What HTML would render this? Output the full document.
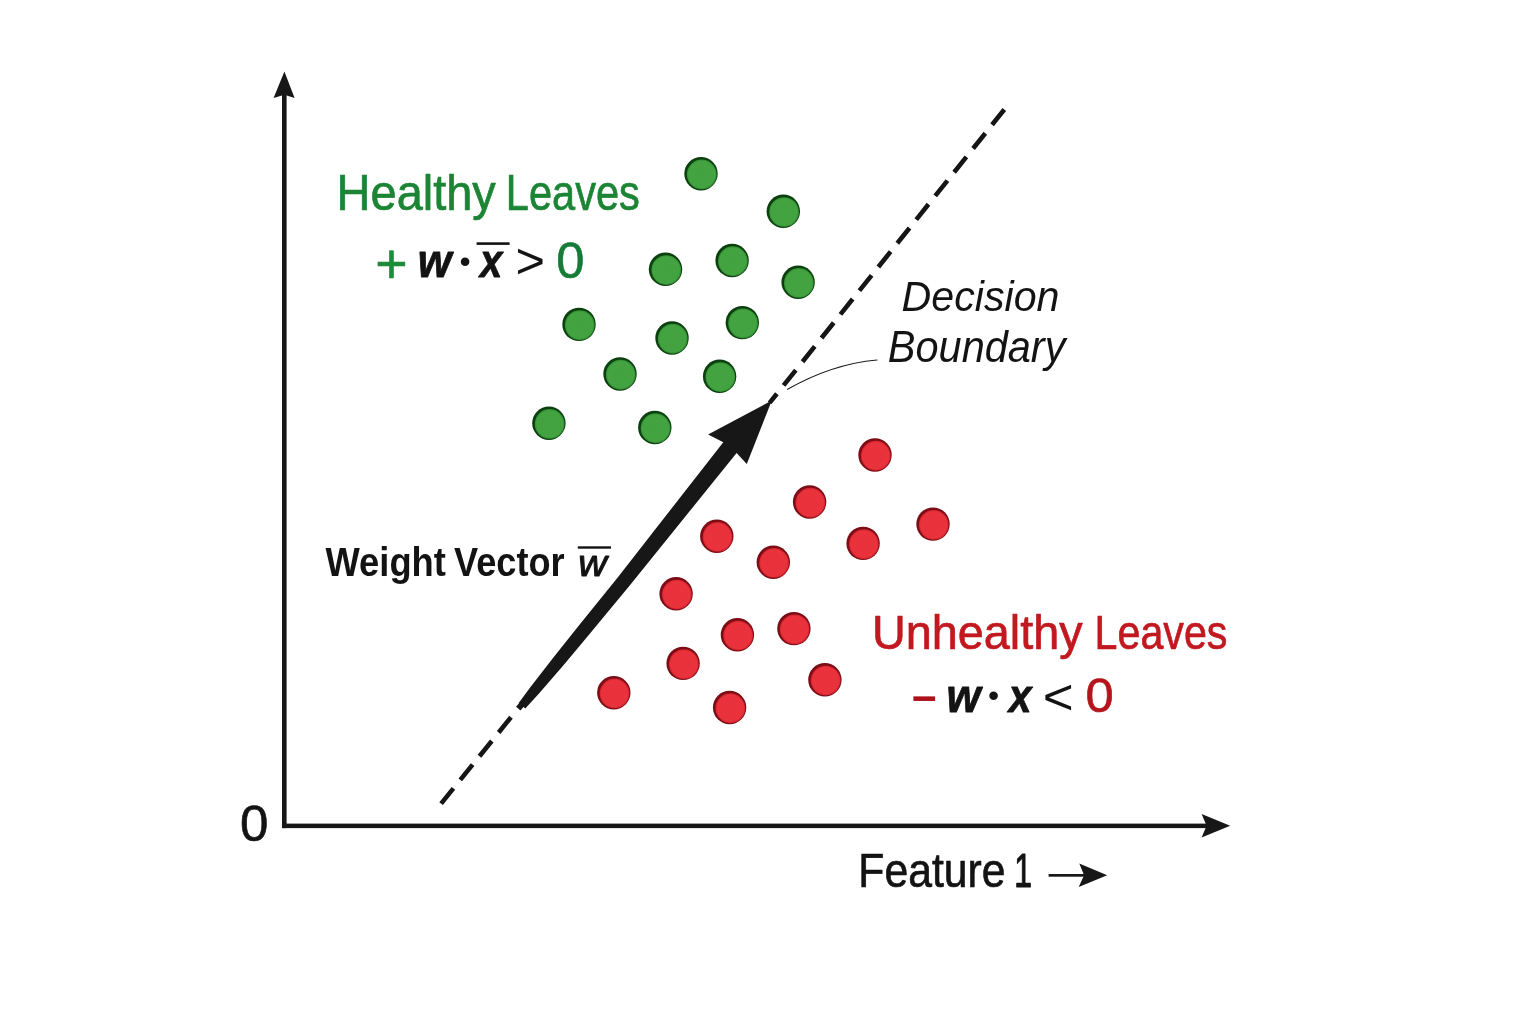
<!DOCTYPE html>
<html lang="en"><head><meta charset="utf-8"><title>Decision Boundary</title>
<style>html,body{margin:0;padding:0;background:#fff;}body{width:1536px;height:1024px;overflow:hidden;}svg{display:block;}text{white-space:pre;}</style>
</head><body>
<svg width="1536" height="1024" viewBox="0 0 1536 1024" font-family="'Liberation Sans', sans-serif">
<defs>
<radialGradient id="gg" cx="0.5" cy="0.5" r="0.5"><stop offset="0" stop-color="#41a23f"/><stop offset="0.88" stop-color="#42a340"/><stop offset="1" stop-color="#2f8a31"/></radialGradient>
<radialGradient id="rg" cx="0.5" cy="0.5" r="0.5"><stop offset="0" stop-color="#e8313a"/><stop offset="0.88" stop-color="#e9323b"/><stop offset="1" stop-color="#cc222c"/></radialGradient>
</defs>
<rect width="1536" height="1024" fill="#ffffff"/>
<!-- axes -->
<g fill="#171717" stroke="none">
<rect x="282" y="92" width="4.6" height="736.1"/>
<rect x="282" y="823.6" width="926.5" height="4.5"/>
<path d="M284.4 71.5 L294.6 98 L284.4 94.8 L273.6 98 Z"/>
<path d="M1230.2 825.8 L1201.6 837.5 L1206.6 825.8 L1201.6 814.1 Z"/>
</g>
<!-- decision boundary dashed -->
<g stroke="#151515" stroke-width="4.6" fill="none">
<path d="M1004.3 109.5 L769.6 402.9" stroke-dasharray="19.6 10.74"/>
<path d="M441.1 803.6 L514.5 712.9" stroke-dasharray="19.6 10.9"/>
</g>
<path d="M787.6 389.3 Q832 364 877 360" stroke="#1d1d1d" stroke-width="1.15" stroke-linecap="round" fill="none"/>
<path d="M518.7 703.1 L522.2 698.2 L530.5 686.9 L553.8 656.9 L580.1 624.1 L617.7 577.4 L723.3 442.2 L708.1 434.6 L771.8 400.5 L746.8 463.9 L736.6 453.0 L628.9 586.5 L590.6 632.7 L563.7 665.0 L538.8 693.7 L529.4 704.1 L525.3 708.5Z" fill="#171717"/><path d="M520.2 701.7 L516.1 706.7 L520.5 710.4 L524.7 705.4Z" fill="#171717"/>
<circle cx="701" cy="173.7" r="16.7" fill="#0b3f0e"/><circle cx="701.75" cy="174.45" r="14.9" fill="url(#gg)"/>
<circle cx="783.3" cy="211.3" r="16.7" fill="#0b3f0e"/><circle cx="784.05" cy="212.05" r="14.9" fill="url(#gg)"/>
<circle cx="665.5" cy="269.3" r="16.7" fill="#0b3f0e"/><circle cx="666.25" cy="270.05" r="14.9" fill="url(#gg)"/>
<circle cx="732.1" cy="260.5" r="16.7" fill="#0b3f0e"/><circle cx="732.85" cy="261.25" r="14.9" fill="url(#gg)"/>
<circle cx="798.1" cy="282.2" r="16.7" fill="#0b3f0e"/><circle cx="798.85" cy="282.95" r="14.9" fill="url(#gg)"/>
<circle cx="579" cy="324.4" r="16.7" fill="#0b3f0e"/><circle cx="579.75" cy="325.15" r="14.9" fill="url(#gg)"/>
<circle cx="672" cy="338" r="16.7" fill="#0b3f0e"/><circle cx="672.75" cy="338.75" r="14.9" fill="url(#gg)"/>
<circle cx="742.3" cy="322.6" r="16.7" fill="#0b3f0e"/><circle cx="743.05" cy="323.35" r="14.9" fill="url(#gg)"/>
<circle cx="620" cy="374" r="16.7" fill="#0b3f0e"/><circle cx="620.75" cy="374.75" r="14.9" fill="url(#gg)"/>
<circle cx="719.6" cy="376.3" r="16.7" fill="#0b3f0e"/><circle cx="720.35" cy="377.05" r="14.9" fill="url(#gg)"/>
<circle cx="548.9" cy="423.2" r="16.7" fill="#0b3f0e"/><circle cx="549.65" cy="423.95" r="14.9" fill="url(#gg)"/>
<circle cx="654.8" cy="427.5" r="16.7" fill="#0b3f0e"/><circle cx="655.55" cy="428.25" r="14.9" fill="url(#gg)"/>
<circle cx="875" cy="455" r="16.7" fill="#7c0c15"/><circle cx="875.75" cy="455.75" r="14.9" fill="url(#rg)"/>
<circle cx="809.6" cy="502" r="16.7" fill="#7c0c15"/><circle cx="810.35" cy="502.75" r="14.9" fill="url(#rg)"/>
<circle cx="933" cy="524.1" r="16.7" fill="#7c0c15"/><circle cx="933.75" cy="524.85" r="14.9" fill="url(#rg)"/>
<circle cx="716.8" cy="536.2" r="16.7" fill="#7c0c15"/><circle cx="717.55" cy="536.95" r="14.9" fill="url(#rg)"/>
<circle cx="863.1" cy="543.4" r="16.7" fill="#7c0c15"/><circle cx="863.85" cy="544.15" r="14.9" fill="url(#rg)"/>
<circle cx="773.3" cy="562.2" r="16.7" fill="#7c0c15"/><circle cx="774.05" cy="562.95" r="14.9" fill="url(#rg)"/>
<circle cx="676.1" cy="593.8" r="16.7" fill="#7c0c15"/><circle cx="676.85" cy="594.55" r="14.9" fill="url(#rg)"/>
<circle cx="737.4" cy="634.8" r="16.7" fill="#7c0c15"/><circle cx="738.15" cy="635.55" r="14.9" fill="url(#rg)"/>
<circle cx="793.9" cy="628.6" r="16.7" fill="#7c0c15"/><circle cx="794.65" cy="629.35" r="14.9" fill="url(#rg)"/>
<circle cx="683.1" cy="663.4" r="16.7" fill="#7c0c15"/><circle cx="683.85" cy="664.15" r="14.9" fill="url(#rg)"/>
<circle cx="824.9" cy="679.8" r="16.7" fill="#7c0c15"/><circle cx="825.65" cy="680.55" r="14.9" fill="url(#rg)"/>
<circle cx="613.8" cy="692.7" r="16.7" fill="#7c0c15"/><circle cx="614.55" cy="693.45" r="14.9" fill="url(#rg)"/>
<circle cx="729.6" cy="707.5" r="16.7" fill="#7c0c15"/><circle cx="730.35" cy="708.25" r="14.9" fill="url(#rg)"/>
<!-- overbars -->
<rect x="476.6" y="242.3" width="33" height="2.6" fill="#131313"/>
<rect x="577.8" y="546.3" width="33.2" height="2.4" fill="#131313"/>
<!-- small arrow after Feature 1 -->
<g fill="#171717"><rect x="1048.6" y="874" width="37" height="2.7"/>
<path d="M1107.2 875.3 L1078.7 887 L1084.1 875.3 L1079.3 863.6 Z"/></g>
<text id="healthy" transform="translate(336.59 209.55) scale(0.9508 1)" font-size="49.42" font-weight="normal" font-style="normal" fill="#1c8535" stroke="#1c8535" stroke-width="0.7" stroke-linejoin="round">Healthy</text>
<text id="leaves1" transform="translate(505.83 209.55) scale(0.8409 1)" font-size="49.42" font-weight="normal" font-style="normal" fill="#1c8535" stroke="#1c8535" stroke-width="0.7" stroke-linejoin="round">Leaves</text>
<text id="plus" transform="translate(375.33 282.80) scale(0.9992 1)" font-size="55.51" font-weight="normal" font-style="normal" fill="#1e8a3c" stroke="#1e8a3c" stroke-width="0.6" stroke-linejoin="round">+</text>
<text id="w1" transform="translate(417.63 277.30) scale(0.9490 1)" font-size="45.66" font-weight="bold" font-style="italic" fill="#131313" stroke="#131313" stroke-width="0.8" stroke-linejoin="round">w</text>
<text id="dot1" transform="translate(459.53 272.21) scale(1.0000 1)" font-size="31.85" font-weight="normal" font-style="normal" fill="#131313">•</text>
<text id="x1" transform="translate(480.11 277.30) scale(0.8795 1)" font-size="45.66" font-weight="bold" font-style="italic" fill="#131313" stroke="#131313" stroke-width="0.8" stroke-linejoin="round">x</text>
<text id="gt" transform="translate(515.47 277.88) scale(1.0305 1)" font-size="49.02" font-weight="normal" font-style="normal" fill="#131313">&gt;</text>
<text id="zero_g" transform="translate(556.17 277.60) scale(1.0205 1)" font-size="49.72" font-weight="normal" font-style="normal" fill="#177b38" stroke="#177b38" stroke-width="0.6" stroke-linejoin="round">0</text>
<text id="decision" transform="translate(901.56 310.60) scale(0.9636 1)" font-size="42.75" font-weight="normal" font-style="italic" fill="#131313">Decision</text>
<text id="boundary" transform="translate(887.86 361.80) scale(0.9542 1)" font-size="43.48" font-weight="normal" font-style="italic" fill="#131313">Boundary</text>
<text id="weight" transform="translate(325.50 576.00) scale(0.9051 1)" font-size="40.14" font-weight="bold" font-style="normal" fill="#131313">Weight</text>
<text id="vector" transform="translate(454.04 576.00) scale(0.9018 1)" font-size="40.14" font-weight="bold" font-style="normal" fill="#131313">Vector</text>
<text id="w2" transform="translate(578.32 575.50) scale(1.0759 1)" font-size="36.79" font-weight="normal" font-style="italic" fill="#131313" stroke="#131313" stroke-width="1.0" stroke-linejoin="round">w</text>
<text id="unhealthy" transform="translate(871.94 648.55) scale(0.9702 1)" font-size="48.26" font-weight="normal" font-style="normal" fill="#c2181f" stroke="#c2181f" stroke-width="0.7" stroke-linejoin="round">Unhealthy</text>
<text id="leaves2" transform="translate(1094.55 648.55) scale(0.8541 1)" font-size="48.26" font-weight="normal" font-style="normal" fill="#c2181f" stroke="#c2181f" stroke-width="0.7" stroke-linejoin="round">Leaves</text>
<text id="minus" transform="translate(911.26 720.19) scale(0.6960 1)" font-size="64.29" font-weight="normal" font-style="normal" fill="#ad121b">−</text>
<text id="w3" transform="translate(946.41 711.80) scale(0.9575 1)" font-size="45.66" font-weight="bold" font-style="italic" fill="#131313" stroke="#131313" stroke-width="0.8" stroke-linejoin="round">w</text>
<text id="dot2" transform="translate(988.03 706.31) scale(1.0000 1)" font-size="31.85" font-weight="normal" font-style="normal" fill="#131313">•</text>
<text id="x3" transform="translate(1008.64 711.80) scale(0.8971 1)" font-size="45.66" font-weight="bold" font-style="italic" fill="#131313" stroke="#131313" stroke-width="0.8" stroke-linejoin="round">x</text>
<text id="lt" transform="translate(1042.65 714.48) scale(1.0515 1)" font-size="50.39" font-weight="normal" font-style="normal" fill="#131313">&lt;</text>
<text id="zero_r" transform="translate(1085.47 712.31) scale(1.0381 1)" font-size="48.87" font-weight="normal" font-style="normal" fill="#b5141c" stroke="#b5141c" stroke-width="0.6" stroke-linejoin="round">0</text>
<text id="feature" transform="translate(858.34 887.15) scale(0.8765 1)" font-size="48.70" font-weight="normal" font-style="normal" fill="#131313" stroke="#131313" stroke-width="0.7" stroke-linejoin="round">Feature</text>
<text id="one" transform="translate(1014.31 886.90) scale(0.6642 1)" font-size="47.97" font-weight="normal" font-style="normal" fill="#131313" stroke="#131313" stroke-width="1.2" stroke-linejoin="round">1</text>
<text id="zero_axis" transform="translate(239.95 840.81) scale(1.0348 1)" font-size="49.44" font-weight="normal" font-style="normal" fill="#131313" stroke="#131313" stroke-width="0.6" stroke-linejoin="round">0</text>
</svg>
</body></html>
